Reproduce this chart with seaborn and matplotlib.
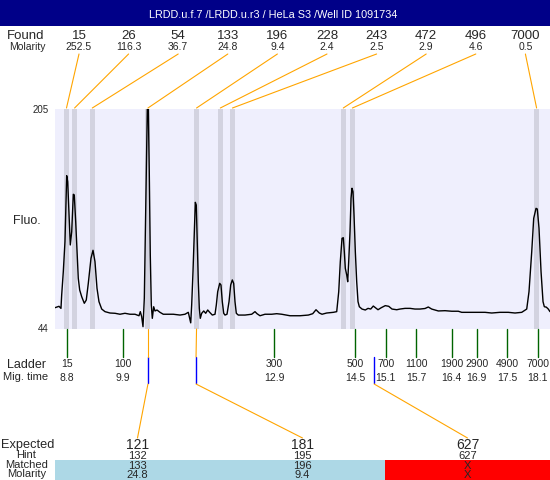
import pandas as pd
import matplotlib
matplotlib.use('Agg')
import matplotlib.pyplot as plt
from matplotlib.patches import Rectangle
import seaborn as sns

sns.set_theme(style='white')
plt.rcParams['font.family'] = ['Liberation Sans', 'DejaVu Sans']

title = 'LRDD.u.f.7 /LRDD.u.r3 / HeLa S3 /Well ID 1091734'

# electropherogram trace (migration time, fluorescence)
mig_time = [
    8.563, 8.642, 8.681, 8.695, 8.727, 8.760, 8.794, 8.814, 8.840, 8.865,
    8.893, 8.925, 8.944, 8.972, 8.998, 9.023, 9.051, 9.091, 9.142, 9.181,
    9.221, 9.274, 9.314, 9.353, 9.393, 9.432, 9.486, 9.551, 9.650, 9.749,
    9.847, 9.946, 10.045, 10.144, 10.223, 10.249, 10.276, 10.302, 10.328, 10.347,
    10.367, 10.387, 10.407, 10.426, 10.446, 10.466, 10.486, 10.513, 10.539, 10.579,
    10.638, 10.703, 10.802, 10.901, 11.033, 11.132, 11.197, 11.225, 11.245, 11.264,
    11.290, 11.316, 11.336, 11.355, 11.375, 11.395, 11.415, 11.434, 11.462, 11.502,
    11.541, 11.581, 11.620, 11.672, 11.725, 11.751, 11.778, 11.818, 11.843, 11.869,
    11.897, 11.922, 11.962, 12.002, 12.035, 12.067, 12.094, 12.120, 12.146, 12.185,
    12.318, 12.450, 12.515, 12.555, 12.614, 12.713, 12.845, 12.944, 13.043, 13.207,
    13.405, 13.569, 13.656, 13.721, 13.786, 13.840, 13.932, 14.063, 14.130, 14.170,
    14.201, 14.235, 14.261, 14.280, 14.300, 14.328, 14.347, 14.367, 14.393, 14.413,
    14.432, 14.452, 14.472, 14.498, 14.525, 14.551, 14.577, 14.630, 14.695, 14.749,
    14.802, 14.853, 14.893, 14.946, 15.011, 15.090, 15.158, 15.223, 15.316, 15.381,
    15.480, 15.579, 15.677, 15.776, 15.875, 15.940, 16.007, 16.138, 16.270, 16.403,
    16.533, 16.600, 16.798, 17.061, 17.193, 17.357, 17.521, 17.654, 17.786, 17.885,
    17.930, 17.984, 18.023, 18.069, 18.094, 18.128, 18.168, 18.207, 18.233, 18.272,
    18.311, 18.345,
]
fluo = [
    59.6, 60.6, 59.1, 68.9, 85.9, 107.9, 156.2, 151.8, 127.4, 105.5,
    115.2, 142.6, 142.1, 122.5, 100.6, 81.1, 72.5, 67.6, 62.8, 65.2,
    77.4, 95.7, 101.6, 93.3, 73.8, 64.0, 58.6, 56.7, 55.7, 55.5,
    54.8, 55.5, 54.8, 54.8, 53.7, 56.7, 53.0, 45.7, 66.5, 110.4,
    159.1, 205, 205, 159.1, 98.2, 61.6, 51.8, 60.3, 57.2, 57.9,
    56.2, 54.8, 54.8, 54.8, 54.2, 54.8, 56.2, 51.8, 48.5, 61.6,
    85.9, 115.2, 136.7, 134.7, 105.5, 78.6, 59.1, 51.8, 55.5, 57.2,
    55.5, 57.9, 56.2, 54.2, 54.8, 61.6, 71.3, 77.4, 76.2, 64.0,
    55.5, 54.2, 54.8, 64.0, 76.2, 79.9, 77.4, 64.0, 55.5, 54.2,
    54.2, 54.8, 56.7, 55.2, 53.7, 54.8, 54.8, 55.2, 54.8, 53.7,
    53.7, 54.2, 55.2, 58.1, 55.7, 54.8, 55.7, 56.2, 56.7, 71.3,
    93.3, 110.4, 110.8, 100.6, 88.4, 83.5, 78.6, 93.3, 115.2, 139.6,
    147.0, 144.5, 127.4, 100.6, 78.6, 64.0, 60.3, 58.6, 57.9, 59.1,
    58.6, 60.8, 59.6, 58.1, 59.6, 61.1, 60.6, 58.6, 58.1, 58.6,
    59.1, 59.1, 58.6, 58.6, 59.0, 60.1, 58.6, 57.2, 57.4, 57.0,
    57.0, 56.2, 56.2, 56.2, 55.7, 56.2, 56.2, 55.7, 56.2, 58.6,
    71.3, 100.6, 125.0, 132.3, 131.8, 117.7, 85.9, 64.0, 60.3, 60.0,
    58.6, 56.7,
]

# found peaks
found_sizes = ['15', '26', '54', '133', '196', '228', '243', '472', '496', '7000']
found_molarity = ['252.5', '116.3', '36.7', '24.8', '9.4', '2.4', '2.5', '2.9', '4.6', '0.5']
peak_times = [8.79, 8.95, 9.30, 10.40, 11.36, 11.83, 12.07, 14.26, 14.44, 18.08]

# ladder
ladder_sizes = ['15', '100', '300', '500', '700', '1100', '1900', '2900', '4900', '7000']
ladder_times = [8.8, 9.9, 12.9, 14.5, 15.1, 15.7, 16.4, 16.9, 17.5, 18.1]

# expected fragments
expected_sizes = ['121', '181', '627']
hint_sizes = ['132', '195', '627']
matched_sizes = ['133', '196', 'X']
matched_molarity = ['24.8', '9.4', 'X']
expected_times = [10.40, 11.35, 14.87]
matched_peak = [3, 4, None]

y_min, y_max = 44, 205
t_min, t_max = 8.563, 18.345

W, H = 550, 480
fig = plt.figure(figsize=(5.5, 4.8), dpi=100)

# plot area in pixels
L, R, T, B = 55, 550, 109, 329
ax = fig.add_axes([L / W, 1 - B / H, (R - L) / W, (B - T) / H])
ax.set_facecolor('#EFEFFD')
for t in peak_times:
    ax.axvspan(t - 0.05, t + 0.05, color='#D3D3E0', lw=0, zorder=1)
trace = pd.DataFrame({'time': mig_time, 'fluo': fluo})
sns.lineplot(data=trace, x='time', y='fluo', ax=ax, color='black',
             linewidth=1.0, estimator=None, zorder=3)
ax.set_xlim(t_min, t_max)
ax.set_ylim(y_min, y_max)
ax.set_xticks([])
ax.set_yticks([])
ax.set_xlabel('')
ax.set_ylabel('')
for s in ax.spines.values():
    s.set_visible(False)

# overlay for the annotations, in pixel units
ov = fig.add_axes([0, 0, 1, 1])
ov.set_xlim(0, W)
ov.set_ylim(H, 0)
ov.axis('off')
ov.patch.set_alpha(0)


def tx(t):
    return L + (t - t_min) / (t_max - t_min) * (R - L)


orange = '#FFA500'

# title bar
ov.add_patch(Rectangle((0, 0), W, 26, color='#000088', lw=0))
ov.text(273, 18, title, color='white', fontsize=7.8, ha='center', va='baseline')

# found peaks row
ov.text(26, 39.3, 'Found', fontsize=9.5, ha='center', va='baseline')
ov.text(27, 50, 'Molarity', fontsize=7.5, ha='center', va='baseline')
for i, (sz, mol, pt) in enumerate(zip(found_sizes, found_molarity, peak_times)):
    lx = 79 + i * 49.6
    ov.text(lx, 39.3, sz, fontsize=9.5, ha='center', va='baseline')
    ov.text(lx, 50, mol, fontsize=7.5, ha='center', va='baseline')
    ov.plot([lx, tx(pt)], [54, 108], color=orange, lw=0.8)

# y labels
ov.text(49, 113.3, str(y_max), fontsize=7, ha='right', va='baseline')
ov.text(49, 332.3, str(y_min), fontsize=7, ha='right', va='baseline')
ov.text(26.5, 224.3, 'Fluo.', fontsize=9, ha='center', va='baseline')

# ladder
ov.text(26, 368.3, 'Ladder', fontsize=9, ha='center', va='baseline')
ov.text(26, 380, 'Mig. time', fontsize=8, ha='center', va='baseline')
for sz, t in zip(ladder_sizes, ladder_times):
    x = tx(t)
    ov.plot([x, x], [329, 357], color='#006400', lw=1)
    ov.text(x, 366.7, sz, fontsize=7.5, ha='center', va='baseline')
    ov.text(x, 380.7, f'{t:.1f}', fontsize=7.5, ha='center', va='baseline')

# expected fragments
col_w = (R - L) / len(expected_sizes)
for i, t in enumerate(expected_times):
    x = tx(t)
    cx = L + col_w * (i + 0.5)
    ov.plot([x, x], [357, 383], color='blue', lw=1)
    if matched_peak[i] is not None:
        ov.plot([tx(peak_times[matched_peak[i]]), x], [329, 357], color=orange, lw=0.8)
    ov.plot([x, cx], [384, 438], color=orange, lw=0.8)
    bg = '#ADD8E6' if matched_peak[i] is not None else '#FF0000'
    ov.add_patch(Rectangle((L + col_w * i, 460), col_w, 20, color=bg, lw=0))
    ov.text(cx, 449, expected_sizes[i], fontsize=10, ha='center', va='baseline')
    ov.text(cx, 459, hint_sizes[i], fontsize=8, ha='center', va='baseline')
    ov.text(cx, 469, matched_sizes[i], fontsize=8, ha='center', va='baseline')
    ov.text(cx, 478.3, matched_molarity[i], fontsize=8, ha='center', va='baseline')

ov.text(27.5, 448.3, 'Expected', fontsize=9.2, ha='center', va='baseline')
ov.text(26, 458.3, 'Hint', fontsize=8, ha='center', va='baseline')
ov.text(26.5, 468.3, 'Matched', fontsize=8, ha='center', va='baseline')
ov.text(27, 477.3, 'Molarity', fontsize=8, ha='center', va='baseline')

fig.savefig('out.png', dpi=100)
